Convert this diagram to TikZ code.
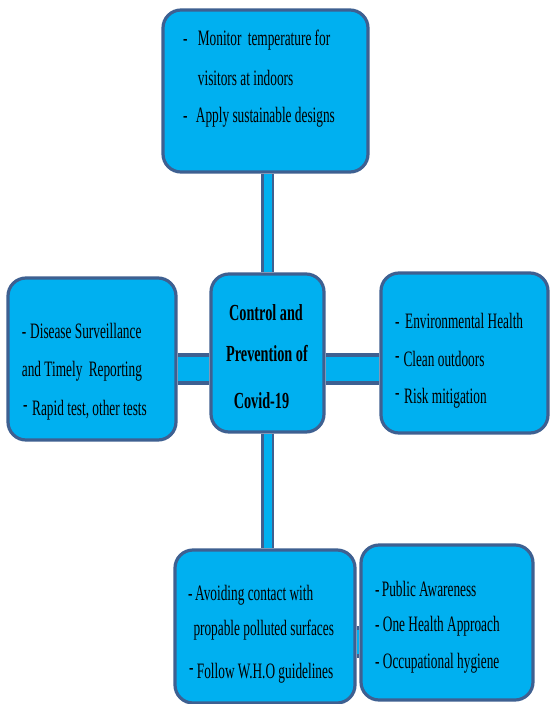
\documentclass[tikz,border=0pt]{standalone}
\usepackage{fontspec}
\setmainfont[FakeStretch=0.605]{Liberation Serif}
\newfontfamily\ctrfont[FakeStretch=0.62]{Liberation Serif}
\usetikzlibrary{backgrounds}
\definecolor{boxfill}{RGB}{0,176,240}
\definecolor{boxline}{RGB}{62,96,145}
\newcommand{\myDash}[1]{\makebox[#1][l]{-}}
\newcommand{\upDash}[1]{\makebox[#1][l]{\raisebox{4pt}{-}}}
\begin{document}
\begin{tikzpicture}[x=1pt,y=-1pt,
  box/.style={draw=boxline, fill=boxfill, line width=3.2pt, rounded corners=18pt, rectangle, inner sep=0pt},
  txt/.style={anchor=base west, inner sep=0pt, font=\fontsize{22}{26}\selectfont},
  ctxt/.style={anchor=base, inner sep=0pt, font=\ctrfont\fontsize{23}{26}\selectfont\bfseries},
  hbar/.style={draw=boxline, line width=4pt, double=boxfill, double distance=24pt},
  vbar/.style={draw=boxline, line width=2.5pt, double=boxfill, double distance=8pt}]
\useasboundingbox (0,0) rectangle (550,704);

% boxes
\node[box, minimum width=205pt, minimum height=162pt] (top) at (265.5,91) {};
\node[box, minimum width=168pt, minimum height=162pt] (lf) at (92,359) {};
\node[box, minimum width=113pt, minimum height=158pt] (ctr) at (267.5,353) {};
\node[box, minimum width=167pt, minimum height=160pt] (rt) at (464.5,353) {};
\node[box, minimum width=180pt, minimum height=153pt] (bl) at (265,626.5) {};
\node[box, minimum width=172pt, minimum height=155pt] (br) at (447,622.5) {};

% connectors
\begin{scope}[on background layer]
\draw[vbar] (ctr.north) -- (ctr.north |- top.south);
\draw[vbar] (ctr.south) -- (ctr.south |- bl.north);
\draw[hbar] ([yshift=-16pt]ctr.west) -- ([yshift=-16pt]ctr.west -| lf.east);
\draw[hbar] ([yshift=-16pt]ctr.east) -- ([yshift=-16pt]ctr.east -| rt.west);
\draw[hbar] ([yshift=-15pt]bl.east) -- ([yshift=-15pt]bl.east -| br.west);
\end{scope}

% top texts
\node[txt] (t1) at (183,45) {\myDash{14.7pt}Monitor\hspace{3pt} temperature for};
\node[txt] (t2) at (197.7,85) {visitors at indoors};
\node[txt] (t3) at (183,122) {\myDash{12.7pt}Apply sustainable designs};

% left texts
\node[txt] (l1) at (21.7,338) {\myDash{8.3pt}Disease Surveillance};
\node[txt] (l2) at (21.7,376) {and Timely\hspace{3pt} Reporting};
\node[txt] (l3) at (23,415) {\upDash{9pt}Rapid test, other tests};

% center texts
\node[ctxt] (c1) at (266,320) {Control and};
\node[ctxt] (c2) at (267,361.7) {Prevention of};
\node[ctxt] (c3) at (261.5,408) {Covid-19};

% right texts
\node[txt] (r1) at (395,328.3) {\myDash{10pt}Environmental Health};
\node[txt] (r2) at (395,366) {\upDash{8.3pt}Clean outdoors};
\node[txt] (r3) at (395,403.3) {\upDash{9pt}Risk mitigation};

% bottom-left texts
\node[txt] (b1) at (188,600) {\myDash{7pt}Avoiding contact with};
\node[txt] (b2) at (193.3,635) {propable polluted surfaces};
\node[txt] (b3) at (189,678) {\upDash{7.7pt}Follow W.H.O guidelines};

% bottom-right texts
\node[txt] (s1) at (375,596.7) {\myDash{6.7pt}Public Awareness};
\node[txt] (s2) at (375,631.7) {\myDash{7.7pt}One Health Approach};
\node[txt] (s3) at (375,668) {\myDash{7.7pt}Occupational hygiene};
\end{tikzpicture}
\end{document}
